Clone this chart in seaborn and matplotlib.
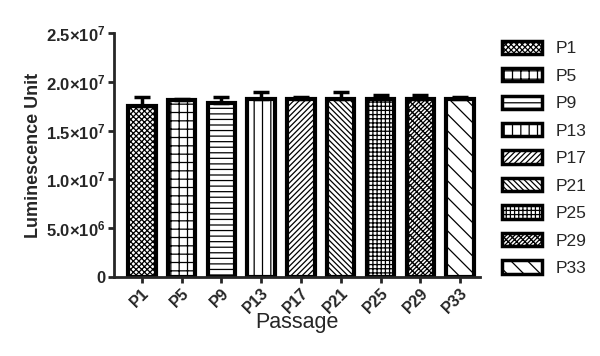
import numpy as np
import pandas as pd
import matplotlib
matplotlib.use('Agg')
import matplotlib.pyplot as plt
import matplotlib.patches as mpatches
import seaborn as sns

# datos
passages = ['P1', 'P5', 'P9', 'P13', 'P17', 'P21', 'P25', 'P29', 'P33']
means = [1.75e7, 1.81e7, 1.78e7, 1.82e7, 1.82e7, 1.82e7, 1.82e7, 1.82e7, 1.82e7]
errs = [0.10e7, 0.015e7, 0.065e7, 0.08e7, 0.03e7, 0.075e7, 0.045e7, 0.045e7, 0.03e7]
hatches = ['xxxxxx', '++', '---', '||', '//////', '\\\\\\\\\\\\', '++++', 'xxxx////', '\\\\']
ytick_vals = [0, 5.0e6, 1.0e7, 1.5e7, 2.0e7, 2.5e7]
ytick_labels = ['0', '5.0×10$^{6}$', '1.0×10$^{7}$', '1.5×10$^{7}$', '2.0×10$^{7}$', '2.5×10$^{7}$']

sns.set_style('ticks')
plt.rcParams['font.family'] = ['Liberation Sans', 'DejaVu Sans']
plt.rcParams['mathtext.fontset'] = 'custom'
plt.rcParams['mathtext.rm'] = 'Liberation Sans:bold'
plt.rcParams['mathtext.default'] = 'rm'
plt.rcParams['hatch.linewidth'] = 0.9

df = pd.DataFrame({'passage': passages, 'valor': means})

fig = plt.figure(figsize=(6, 3.56), dpi=100)
ax = fig.add_axes([0.19, 0.222, 0.61, 0.685])

sns.barplot(data=df, x='passage', y='valor', order=passages, color='white',
            edgecolor='black', linewidth=3, width=0.69, errorbar=None, ax=ax)

for bar, h in zip(ax.patches, hatches):
    bar.set_hatch(h)

x = np.arange(len(passages))
ax.errorbar(x, means, yerr=[np.zeros(len(errs)), errs], fmt='none', ecolor='black',
            elinewidth=2.5, capsize=6, capthick=2.5, zorder=1)

ax.set_xlim(-0.7, 8.5)
ax.set_ylim(0, 2.5e7)
ax.set_yticks(ytick_vals)
ax.set_yticklabels(ytick_labels, fontsize=12, fontweight='bold')
ax.set_xticks(x)
ax.set_xticklabels(passages, rotation=45, ha='right', rotation_mode='anchor',
                   fontsize=11.5, fontweight='bold')
ax.tick_params(axis='both', width=2, length=4, pad=2)
for s in ['left', 'bottom']:
    ax.spines[s].set_linewidth(2)
sns.despine(ax=ax)

ax.set_ylabel('Luminescence Unit', fontsize=13, fontweight='bold', labelpad=3)
ax.set_xlabel('Passage', fontsize=15.5)
ax.xaxis.set_label_coords(0.5, -0.145)

handles = [mpatches.Patch(facecolor='white', edgecolor='black', linewidth=2.5, hatch=h, label=p)
           for p, h in zip(passages, hatches)]
fig.legend(handles=handles, loc='upper left', bbox_to_anchor=(0.81, 0.93), frameon=False,
           fontsize=12.5, handlelength=2.3, handleheight=0.8, labelspacing=0.68, handletextpad=0.8)

fig.savefig('out.png', dpi=100)
